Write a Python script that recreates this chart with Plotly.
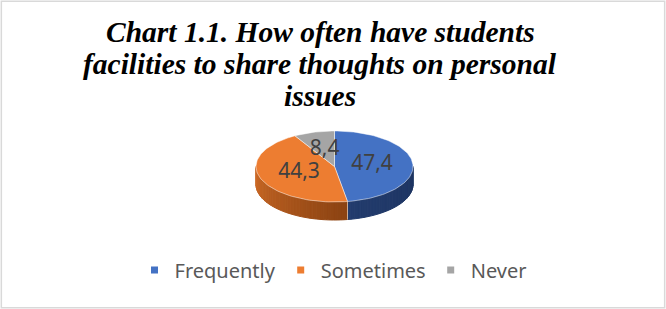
import math
import plotly.graph_objects as go

# ---- data ----
categories = ["Frequently", "Sometimes", "Never"]
values = [47.4, 44.3, 8.4]
title_lines = ["Chart 1.1. How often have students",
               "facilities to share thoughts on personal",
               "issues"]

# ---- style ----
top_colors = ["#4472C4", "#ED7D31", "#A5A5A5"]
side_dark = ["#1d3461", "#8a4212", "#6e6e6e"]
side_light = ["#2a467c", "#cc6a26", "#8c8c8c"]

W, H = 666, 309
cx, cy, rx, ry, depth = 334.5, 166.5, 78.5, 35.5, 18


def pt(theta_deg, dy=0.0, f=1.0):
    t = math.radians(theta_deg)
    return cx + f * rx * math.sin(t), cy - f * ry * math.cos(t) + dy


def hex2rgb(h):
    h = h.lstrip("#")
    return tuple(int(h[i:i + 2], 16) for i in (0, 2, 4))


def mix(c1, c2, u):
    a, b = hex2rgb(c1), hex2rgb(c2)
    return "rgb(%d,%d,%d)" % tuple(round(a[i] + (b[i] - a[i]) * u) for i in range(3))


total = sum(values)
bounds = []
acc = 0.0
for v in values:
    start = acc / total * 360
    acc += v
    end = acc / total * 360
    bounds.append((start, end))

fig = go.Figure()

# ---- side walls (front half: 90..270 deg) ----
for i, (s, e) in enumerate(bounds):
    a, b = max(s, 90), min(e, 270)
    if a >= b:
        continue
    n = max(2, int((b - a) / 2.5))
    for k in range(n):
        t0 = a + (b - a) * k / n
        t1 = a + (b - a) * (k + 1) / n
        u = (0.5 * (t0 + t1) - 90) / 180.0
        if i == 1:
            u = (0.5 * (t0 + t1) - a) / (b - a)
        col = mix(side_dark[i], side_light[i], min(1, max(0, u)))
        xs, ys = [], []
        for t in (t0, t1):
            x, y = pt(t)
            xs.append(x); ys.append(y)
        for t in (t1, t0):
            x, y = pt(t, depth)
            xs.append(x); ys.append(y)
        xs.append(xs[0]); ys.append(ys[0])
        fig.add_trace(go.Scatter(x=xs, y=ys, mode="lines", fill="toself",
                                 fillcolor=col, line=dict(color=col, width=1),
                                 hoverinfo="skip", showlegend=False))
    for t in (s, e):
        if 90 < t < 270:
            x0, y0 = pt(t)
            x1, y1 = pt(t, depth)
            fig.add_trace(go.Scatter(x=[x0, x1], y=[y0, y1], mode="lines",
                                     line=dict(color="rgba(255,255,255,0.55)", width=1),
                                     hoverinfo="skip", showlegend=False))

# ---- top faces ----
for i, (s, e) in enumerate(bounds):
    n = max(4, int((e - s) / 2))
    xs, ys = [cx], [cy]
    for k in range(n + 1):
        x, y = pt(s + (e - s) * k / n)
        xs.append(x); ys.append(y)
    xs.append(cx); ys.append(cy)
    fig.add_trace(go.Scatter(x=xs, y=ys, mode="lines", fill="toself",
                             fillcolor=top_colors[i],
                             line=dict(color="rgba(255,255,255,0.6)", width=0.8),
                             hoverinfo="skip", showlegend=False))

# ---- data labels ----
lx, ly, lt = [], [], []
for (s, e), v in zip(bounds, values):
    x, y = pt(0.5 * (s + e), f=0.48)
    lx.append(x); ly.append(y)
    lt.append(("%.1f" % v).replace(".", ","))
fig.add_trace(go.Scatter(x=lx, y=ly, mode="text", text=lt,
                         textposition="middle center",
                         textfont=dict(family="Noto Sans", size=21, color="#404040"),
                         hoverinfo="skip", showlegend=False))

# ---- legend entries ----
for c, col in zip(categories, top_colors):
    fig.add_trace(go.Scatter(x=[None], y=[None], mode="markers", name=c,
                             marker=dict(symbol="square", size=7, color=col)))

# ---- title, one annotation per line for tight line spacing ----
title_ann = []
for k, line in enumerate(title_lines):
    title_ann.append(dict(text=line, xref="paper", yref="paper", x=320 / W,
                          y=1 - (32 + 32 * k) / H, xanchor="center", yanchor="middle",
                          showarrow=False,
                          font=dict(family="Liberation Serif", size=29.5, color="black",
                                    weight="bold", style="italic")))

fig.update_layout(
    width=W, height=H, autosize=False,
    margin=dict(l=0, r=0, t=0, b=0),
    paper_bgcolor="white", plot_bgcolor="white",
    xaxis=dict(range=[0, W], visible=False, fixedrange=True),
    yaxis=dict(range=[H, 0], visible=False, fixedrange=True),
    annotations=title_ann,
    legend=dict(orientation="h", x=0.5, xanchor="center",
                y=1 - 270 / H, yanchor="middle",
                font=dict(family="Noto Sans", size=20, color="#595959"),
                itemwidth=30, traceorder="normal"),
    shapes=[dict(type="rect", xref="paper", yref="paper",
                 x0=0.002, x1=0.998, y0=0.004, y1=0.996,
                 line=dict(color="#d9d9d9", width=1.5))],
)

fig.write_html("out.html", config={"displayModeBar": False},
               post_script="document.body.style.margin='0px';")
